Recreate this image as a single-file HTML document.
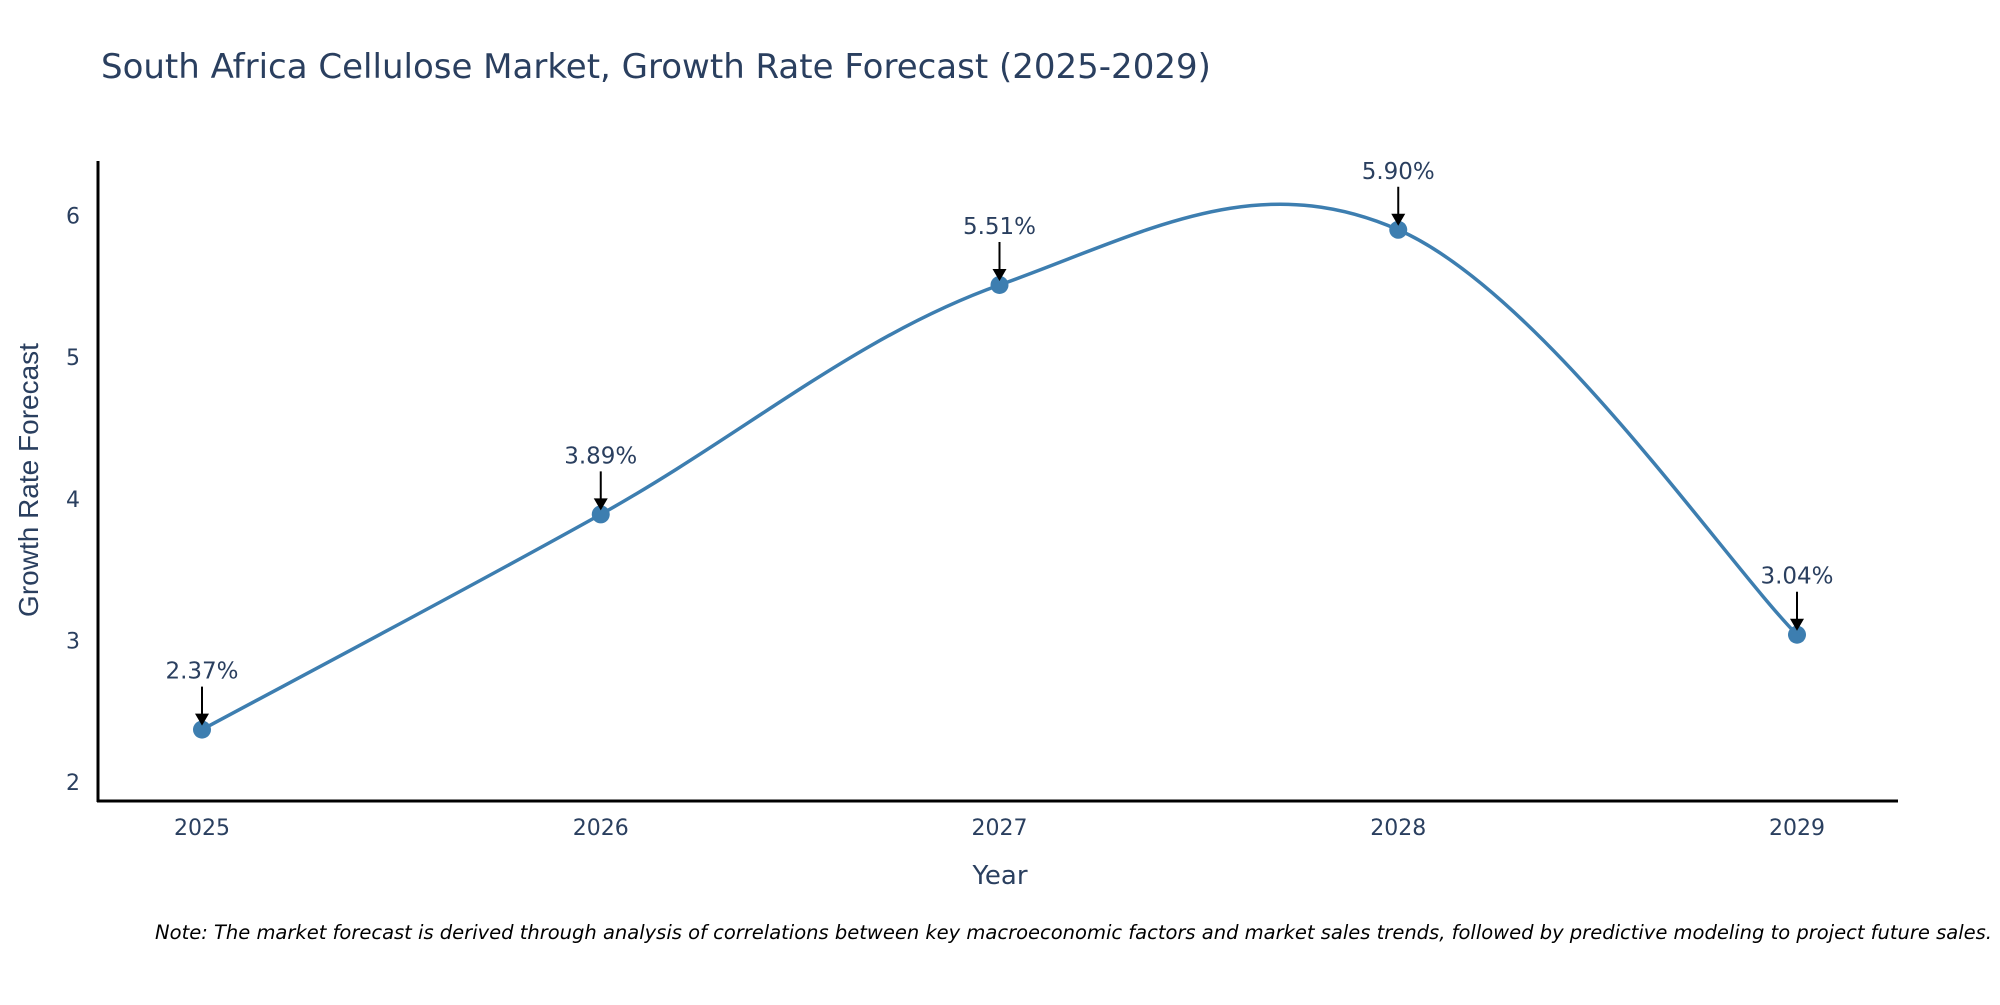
<!DOCTYPE html>
<html><head><meta charset="utf-8"><style>
body{margin:0;background:#fff;}
svg text{font-family:"DejaVu Sans",sans-serif;fill:#2a3f5f;}
</style></head><body>
<svg id="chart" width="2000" height="1000" xmlns="http://www.w3.org/2000/svg">
<text x="101" y="78" font-size="34">South Africa Cellulose Market, Growth Rate Forecast (2025-2029)</text>
<g id="yticks"></g>
<g id="xticks"></g>
<line x1="98" y1="161" x2="98" y2="802" stroke="#000" stroke-width="3"/>
<line x1="97" y1="801" x2="1898" y2="801" stroke="#000" stroke-width="3"/>
<text transform="translate(38,480) rotate(-90)" text-anchor="middle" font-size="28" style="font-family:'Liberation Sans',sans-serif">Growth Rate Forecast</text>
<text x="1000" y="884" text-anchor="middle" font-size="26">Year</text>
<g id="plot"></g>
<text x="1992" y="939" text-anchor="end" font-size="19.5" font-style="italic" style="fill:#000">Note: The market forecast is derived through analysis of correlations between key macroeconomic factors and market sales trends, followed by predictive modeling to project future sales.</text>
</svg>
<script>
const years = [2025, 2026, 2027, 2028, 2029];
const growth = [2.37, 3.89, 5.51, 5.90, 3.04];
const labels = ["2.37%", "3.89%", "5.51%", "5.90%", "3.04%"];
const yTicks = [2, 3, 4, 5, 6];

const NS = "http://www.w3.org/2000/svg";
function xs(v){ return 202 + (v - 2025) * 398.75; }
function ys(v){ return 782 - (v - 2) * 141.6; }
function mk(tag, attrs, parent){ const e=document.createElementNS(NS,tag); for(const k in attrs) e.setAttribute(k,attrs[k]); parent.appendChild(e); return e; }

const yt=document.getElementById('yticks');
yTicks.forEach(t=>{
  const e=mk('text',{x:80,y:ys(t)+8,'text-anchor':'end','font-size':22},yt);
  
  
  e.textContent=t;
});
const xt=document.getElementById('xticks');
years.forEach(y=>{
  const e=mk('text',{x:xs(y),y:835,'text-anchor':'middle','font-size':22},xt);
  
  
  e.textContent=y;
});

const plot=document.getElementById('plot');
const pts=years.map((y,i)=>[xs(y),ys(growth[i])]);
const s=0.18;
let d=`M${pts[0][0]},${pts[0][1]}`;
for(let i=0;i<pts.length-1;i++){
  const p0=pts[Math.max(0,i-1)],p1=pts[i],p2=pts[i+1],p3=pts[Math.min(pts.length-1,i+2)];
  const c1=[p1[0]+(p2[0]-p0[0])*s,p1[1]+(p2[1]-p0[1])*s];
  const c2=[p2[0]-(p3[0]-p1[0])*s,p2[1]-(p3[1]-p1[1])*s];
  d+=` C${c1[0]},${c1[1]} ${c2[0]},${c2[1]} ${p2[0]},${p2[1]}`;
}
const line=mk('path',{d:d,fill:'none',stroke:'#3d7eb0','stroke-width':3.5},plot);



pts.forEach((p,i)=>{
  const c=mk('circle',{cx:p[0],cy:p[1],r:9,fill:'#3d7eb0'},plot);
  
  
  const a=mk('line',{x1:p[0],y1:p[1]-43,x2:p[0],y2:p[1]-14,stroke:'#000','stroke-width':2},plot);
  
  
  const h=mk('polygon',{points:`${p[0]-7},${p[1]-16} ${p[0]+7},${p[1]-16} ${p[0]},${p[1]-4}`,fill:'#000'},plot);
  
  
  const t=mk('text',{x:p[0],y:p[1]-51,'text-anchor':'middle','font-size':23},plot);
  
  
  t.textContent=labels[i];
});
</script>
</body></html>
